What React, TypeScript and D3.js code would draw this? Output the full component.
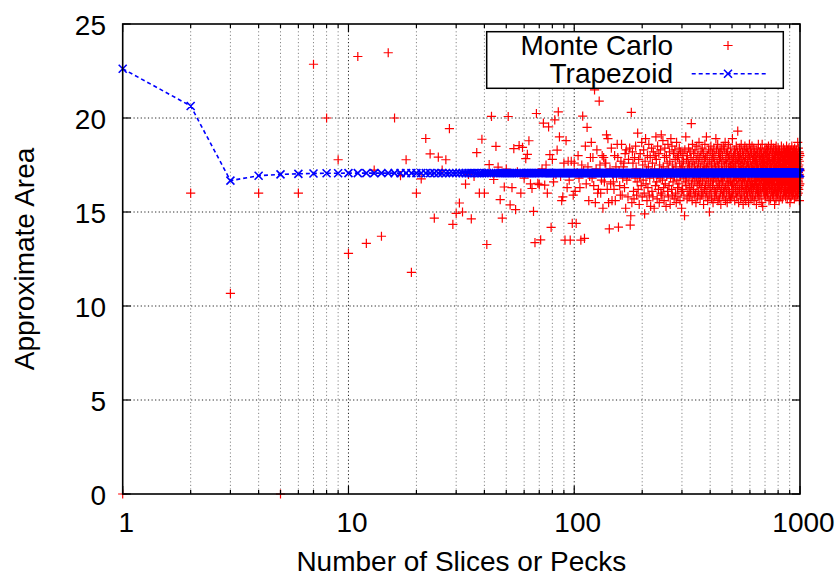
import React from 'react';
import * as d3 from 'd3';

// ---------- data ----------
const xTickValues = [1, 10, 100, 1000];
const yTickValues = [0, 5, 10, 15, 20, 25];
const seriesNames = ['Monte Carlo', 'Trapezoid'];
const xTitle = 'Number of Slices or Pecks';
const yTitle = 'Approximate Area';

// Trapezoid values for n = 1..10, then flat at the read-off limit up to n = 1000
const trapHead = [22.62, 20.64, 16.67, 16.93, 17.0, 17.03, 17.05, 17.06, 17.06, 17.07];
const trapTail = 17.07;
const trapCount = 1000;

// Monte Carlo values, blocks with their starting n
const mcStart1 = 1;
const mc1 = [
  0, 16, 10.67, 16, 0, 16, 22.86, 20, 17.78, 12.8,
  23.27, 13.33, 17.23, 13.71, 23.47, 20, 16.94, 17.78, 11.79, 16,
  16.76, 18.91, 18.09, 14.67, 17.92, 17.23, 17.78, 19.43, 14.34, 14.93,
  15.48, 15, 16.48, 17.0, 14.63, 16.89, 18.16, 16, 18.87, 16,
  13.27, 17.52, 20.09, 16.73, 18.49, 17.39, 15.66, 14.67, 16.33, 17.28,
  20.08, 15.38, 16.3, 18.37, 15.13, 17.14, 18.53, 16, 18.44, 16.8,
  17.84, 18.06, 18.79, 16.5, 16.25, 15.03, 13.37, 20.24, 16.53, 16.46,
  13.52, 17.3, 19.73, 16.43, 17.5, 16.0, 19.53, 18.05, 14.18, 17.8,
  16.6, 19.9, 17.0, 18.29, 20.33, 19.0, 16.9, 15.6, 15.8, 17.6,
  13.5, 18.8, 16.3, 17.7, 16.7, 13.5, 17.7, 14.4, 15.9, 17.6,
  16.1, 14.4, 17.1, 18.0, 16.8, 16.3, 13.5, 17.5, 20.1, 17.2,
  13.6, 18.5, 16.5, 19.5, 17.4, 15.6, 16.9, 17.9, 18.7, 16.8,
  17.9, 16.4, 21.5, 15.5, 17.3, 18.3, 16.0, 16.2, 20.9, 17.5,
  16.0, 16.7, 18.0, 15.2, 17.9, 16.6, 17.6, 17.6, 19.1, 16.2,
  18.9, 15.5, 14.1, 17.3, 16.5, 18.4, 15.6, 17.0, 16.6, 16.2,
  18.0, 15.6, 17.4, 16.9, 18.6, 17.9, 14.2, 17.2, 16.4, 15.9,
  17.7, 18.6, 15.9, 16.8, 17.4, 17.6, 16.3, 18.1, 15.2, 18.3,
  16.7, 17.0, 15.8, 17.8, 16.9, 18.4, 14.3, 14.8, 20.3, 15.5,
];
const mcStart2 = 181;
const mc2 = [
  18.2, 17.6, 16.1, 15.7, 17.9, 16.8, 18.5, 17.3, 15.9, 16.6,
  19.2, 16.2, 17.8, 15.4, 16.9, 18.1, 17.0, 16.4, 18.7, 15.8,
  17.5, 16.7, 18.3, 16.0, 14.9, 17.7, 18.9, 16.5, 17.2, 15.6,
  18.0, 16.3, 17.4, 18.6, 15.9, 16.8, 17.9, 15.3, 17.1, 18.4,
  16.1, 17.6, 15.8, 18.2, 16.9, 15.2, 17.3, 18.0, 16.4, 19.0,
  17.8, 16.6, 15.7, 18.5, 17.0, 16.2, 18.1, 15.5, 17.5, 16.8,
  18.3, 16.0, 19.1, 17.2, 15.9, 16.7, 18.8, 17.4, 16.3, 15.6,
  17.9, 18.4, 16.5, 17.1, 15.3, 18.0, 16.9, 17.6, 16.1, 18.6,
  15.8, 17.3, 16.4, 18.2, 17.7, 15.4, 16.8, 18.9, 17.0, 16.2,
  18.5, 15.9, 17.5, 16.6, 18.1, 17.2, 15.7, 16.9, 18.3, 17.8,
  16.0, 17.4, 15.5, 18.7, 16.7, 17.9, 16.3, 15.8, 18.0, 17.1,
  16.5, 18.4, 17.6, 15.6, 16.9, 18.2, 17.3, 16.1, 15.2, 17.7,
];
const mcStart3 = 301;
const mc3 = [
  17.4, 16.2, 18.1, 16.8, 17.7, 15.9, 17.2, 14.8, 18.3, 16.6,
  17.0, 19.0, 16.4, 17.8, 16.9, 15.7, 18.0, 17.3, 16.1, 17.6,
  18.4, 16.7, 15.8, 17.5, 16.3, 18.2, 17.1, 16.0, 17.9, 19.7,
  16.5, 17.4, 15.6, 18.6, 16.8, 17.7, 16.2, 18.1, 17.0, 15.9,
  17.5, 16.6, 18.3, 17.2, 16.0, 15.5, 17.8, 16.9, 18.5, 16.4,
  17.3, 15.8, 18.0, 16.7, 17.6, 16.1, 18.7, 17.0, 16.5, 17.9,
  15.7, 17.4, 16.8, 18.2, 16.3, 17.1, 15.9, 17.7, 18.4, 16.6,
  17.2, 16.0, 18.1, 15.4, 17.5, 16.9, 17.8, 16.2, 18.6, 17.3,
  16.4, 17.9, 15.8, 16.7, 19.0, 17.4, 16.1, 18.0, 17.0, 15.6,
  17.6, 16.5, 18.3, 16.8, 17.2, 15.9, 15.0, 17.7, 16.3, 18.2,
  17.1, 16.6, 18.5, 16.0, 17.5, 15.7, 17.8, 16.9, 18.1, 16.4,
  17.3, 15.5, 17.9, 16.7, 18.4, 17.0, 16.2, 17.6, 15.8, 18.0,
  16.8, 17.4, 16.1, 18.9, 17.2, 15.9, 18.3, 16.6, 17.7, 16.3,
  17.0, 18.6, 15.6, 17.5, 16.9, 18.1, 16.4, 17.3, 15.7, 17.8,
  16.5, 18.2, 17.1, 16.0, 17.9, 15.4, 16.8, 18.4, 17.4, 16.2,
  17.6, 16.7, 18.0, 15.9, 17.2, 16.6, 18.5, 17.0, 16.1, 17.7,
  15.8, 18.3, 16.9, 17.5, 16.3, 18.7, 17.1, 15.6, 17.8, 16.4,
  18.1, 17.3, 16.0, 17.6, 16.8, 15.5, 18.2, 17.0, 16.5, 17.9,
  16.2, 18.6, 17.4, 15.9, 16.7, 18.0, 17.2, 16.1, 17.7, 15.7,
  18.4, 16.6, 17.5, 16.9, 18.1, 15.8, 17.3, 16.4, 17.8, 16.0,
];
const mcStart4 = 501;
const mc4 = [
  17.2, 18.9, 16.5, 17.6, 15.9, 18.0, 16.8, 17.4, 16.2, 17.9,
  16.6, 18.3, 17.0, 15.6, 17.5, 16.9, 18.1, 16.3, 17.7, 16.0,
  17.3, 18.5, 16.7, 17.1, 15.8, 17.8, 16.4, 18.2, 17.0, 19.3,
  16.1, 17.6, 16.8, 18.0, 15.5, 17.4, 16.6, 17.9, 16.2, 18.4,
  17.2, 16.0, 17.7, 16.9, 18.1, 15.7, 17.5, 16.5, 18.6, 17.0,
  16.3, 17.8, 15.9, 17.3, 16.7, 18.2, 17.1, 16.4, 17.6, 15.4,
  18.0, 16.8, 17.4, 16.1, 18.3, 17.0, 15.8, 17.7, 16.6, 18.5,
  17.2, 16.2, 17.9, 16.9, 15.6, 18.1, 17.5, 16.4, 17.3, 16.0,
  18.4, 17.1, 16.5, 17.8, 15.9, 17.6, 16.7, 18.2, 17.0, 16.3,
  17.5, 15.5, 18.0, 16.8, 17.3, 16.1, 18.6, 17.2, 16.6, 17.9,
  16.0, 17.7, 18.3, 16.4, 17.1, 15.7, 17.5, 16.9, 18.1, 16.2,
  17.4, 16.7, 18.5, 17.0, 15.8, 17.8, 16.5, 17.3, 16.1, 18.0,
  17.6, 16.3, 17.2, 18.4, 16.8, 15.6, 17.9, 17.0, 16.4, 17.5,
  18.2, 16.6, 17.1, 15.9, 17.7, 16.9, 18.0, 16.2, 17.4, 16.7,
  15.4, 17.8, 16.5, 18.3, 17.2, 16.0, 17.6, 16.8, 18.1, 17.0,
  16.3, 17.5, 15.8, 18.6, 16.9, 17.3, 16.4, 17.9, 16.1, 18.2,
  17.1, 16.6, 17.7, 15.7, 18.0, 16.8, 17.4, 16.2, 18.4, 17.0,
  16.5, 17.8, 16.0, 17.3, 18.1, 16.7, 15.5, 17.6, 16.9, 18.6,
  17.2, 16.3, 17.9, 15.3, 17.5, 16.6, 18.2, 17.0, 16.4, 17.7,
  16.1, 18.0, 17.4, 16.8, 15.9, 17.6, 16.5, 18.3, 17.1, 16.2,
];
const mcStart5 = 701;
const mc5 = [
  17.8, 16.7, 17.3, 15.8, 18.1, 16.9, 17.5, 16.3, 18.4, 17.0,
  16.6, 17.7, 16.1, 18.0, 17.2, 15.9, 17.6, 16.8, 18.3, 16.4,
  17.4, 16.0, 17.9, 16.7, 18.5, 17.1, 16.5, 17.7, 15.6, 18.2,
  16.9, 17.3, 16.2, 17.8, 16.6, 18.0, 17.0, 16.4, 17.5, 15.7,
  18.3, 16.8, 17.6, 16.1, 17.2, 18.6, 16.7, 17.4, 16.3, 17.9,
  16.5, 18.1, 17.0, 15.9, 17.7, 16.9, 18.2, 16.4, 17.3, 16.0,
  17.8, 16.6, 18.4, 17.1, 15.8, 17.5, 16.8, 18.0, 16.2, 17.6,
  16.7, 15.4, 17.9, 16.5, 18.3, 17.2, 16.1, 17.4, 16.9, 18.1,
  16.3, 17.7, 15.7, 18.5, 17.0, 16.6, 17.5, 16.0, 18.2, 16.8,
  17.3, 16.4, 17.8, 16.9, 15.9, 18.0, 17.1, 16.2, 17.6, 18.4,
  16.7, 17.4, 16.1, 17.9, 16.5, 18.2, 17.0, 15.6, 17.7, 16.8,
  18.3, 16.3, 17.5, 16.6, 17.2, 18.0, 16.0, 17.8, 16.9, 17.3,
  15.8, 17.6, 16.4, 18.1, 17.0, 16.7, 18.5, 16.2, 17.4, 16.8,
  17.9, 16.5, 18.2, 17.1, 15.7, 17.7, 16.6, 17.3, 18.0, 16.3,
  17.5, 16.9, 17.8, 16.0, 18.4, 17.2, 16.6, 17.6, 15.9, 18.1,
  16.8, 17.4, 16.2, 17.9, 16.7, 18.3, 17.0, 16.4, 17.7, 16.1,
  18.0, 17.3, 15.8, 17.5, 16.9, 18.2, 16.5, 17.8, 16.3, 17.1,
  16.7, 18.5, 17.4, 16.0, 17.6, 16.8, 18.1, 15.7, 17.2, 16.6,
  17.9, 16.4, 18.3, 17.0, 16.2, 17.7, 16.9, 18.0, 16.5, 17.3,
  15.9, 17.6, 16.8, 18.4, 17.1, 16.3, 17.8, 16.6, 18.2, 17.4,
  16.0, 17.5, 15.5, 18.1, 16.9, 17.3, 16.4, 17.9, 16.7, 18.3,
  17.0, 16.2, 17.7, 15.8, 18.0, 17.2, 16.6, 17.5, 16.1, 18.5,
  16.8, 17.4, 16.3, 17.8, 16.9, 18.2, 15.9, 17.1, 16.5, 17.6,
  18.0, 16.7, 17.3, 16.0, 17.9, 16.4, 18.3, 17.0, 16.6, 17.7,
  16.2, 18.1, 17.5, 15.7, 17.2, 16.8, 18.4, 16.5, 17.6, 16.9,
  17.8, 16.3, 18.0, 17.1, 16.0, 17.4, 16.7, 18.2, 15.8, 17.5,
  16.6, 17.9, 16.4, 18.3, 17.0, 16.8, 17.7, 16.1, 18.1, 17.3,
  16.5, 17.6, 15.9, 18.0, 16.9, 17.2, 18.7, 16.3, 17.8, 16.7,
  17.4, 16.0, 18.4, 17.1, 16.6, 17.9, 16.2, 17.5, 18.2, 16.8,
  17.0, 16.4, 17.7, 15.6, 18.1, 16.9, 17.3, 16.5, 18.0, 17.2,
];

const mcBlocks: [number, number[]][] = [
  [mcStart1, mc1], [mcStart2, mc2], [mcStart3, mc3], [mcStart4, mc4], [mcStart5, mc5],
];

// ---------- chart ----------
export default function App() {
  const W = 838, H = 577;
  const left = 122.7, right = 800, top = 24, bottom = 494;
  const font = '"Liberation Sans", Arial, Helvetica, sans-serif';
  const fs = 28;

  const x = d3.scaleLog().domain([1, 1000]).range([left, right]);
  const y = d3.scaleLinear().domain([0, 25]).range([bottom, top]);

  const mcPoints: { n: number; v: number }[] = [];
  mcBlocks.forEach(([start, vals]) => vals.forEach((v, i) => mcPoints.push({ n: start + i, v })));

  const trapPoints = d3.range(1, trapCount + 1).map((n) => ({
    n,
    v: n <= trapHead.length ? trapHead[n - 1] : trapTail,
  }));

  const allXTicks = x.ticks();
  const isMajor = (t: number) => Math.abs(Math.log10(t) - Math.round(Math.log10(t))) < 1e-9;

  const plusSize = 4.6;
  const plusPath = mcPoints
    .map((p) => {
      const px = x(p.n), py = y(p.v);
      return `M${px - plusSize},${py}h${plusSize * 2}M${px},${py - plusSize}v${plusSize * 2}`;
    })
    .join('');

  const cross = 4;
  const crossPath = trapPoints
    .map((p) => {
      const px = x(p.n), py = y(p.v);
      return `M${px - cross},${py - cross}l${cross * 2},${cross * 2}M${px - cross},${py + cross}l${cross * 2},${-cross * 2}`;
    })
    .join('');

  const trapLine = d3
    .line<{ n: number; v: number }>()
    .x((d) => x(d.n))
    .y((d) => y(d.v))(trapPoints) as string;

  const legend = { x0: 486.7, y0: 31.7, x1: 783.3, y1: 88.3 };
  const legTextX = 673;
  const legSampleX = 728;

  return (
    <svg
      width={W}
      height={H}
      style={{ position: 'absolute', left: 0, top: 0, background: '#fff' }}
      fontFamily={font}
    >
      <rect x={0} y={0} width={W} height={H} fill="#fff" />
      {/* grid */}
      <g fill="none" strokeWidth={1}>
        {allXTicks
          .filter((t) => t > 1 && t < 1000)
          .map((t) => (
            <line
              key={'gx' + t}
              x1={x(t)}
              x2={x(t)}
              y1={top}
              y2={bottom}
              stroke={isMajor(t) ? '#222' : '#888'}
              strokeDasharray="1.2,2.4"
            />
          ))}
        {yTickValues
          .filter((t) => t > 0 && t < 25)
          .map((t) => (
            <line
              key={'gy' + t}
              x1={left}
              x2={right}
              y1={y(t)}
              y2={y(t)}
              stroke="#222"
              strokeDasharray="1.2,2.4"
            />
          ))}
      </g>

      {/* Monte Carlo */}
      <path d={plusPath} stroke="#ff0000" strokeWidth={1.2} fill="none" />

      {/* Trapezoid */}
      <path d={trapLine} stroke="#0000ff" strokeWidth={1.6} strokeDasharray="4,3" fill="none" />
      <path d={crossPath} stroke="#0000ff" strokeWidth={1.6} fill="none" />

      {/* border and ticks */}
      <rect x={left} y={top} width={right - left} height={bottom - top} fill="none" stroke="#000" strokeWidth={1.6} />
      <g stroke="#000" strokeWidth={1.2}>
        {allXTicks.map((t) => {
          const len = isMajor(t) ? 8 : 4;
          return (
            <g key={'tx' + t}>
              <line x1={x(t)} x2={x(t)} y1={bottom} y2={bottom - len} />
              <line x1={x(t)} x2={x(t)} y1={top} y2={top + len} />
            </g>
          );
        })}
        {yTickValues.map((t) => (
          <g key={'ty' + t}>
            <line x1={left} x2={left + 8} y1={y(t)} y2={y(t)} />
            <line x1={right} x2={right - 8} y1={y(t)} y2={y(t)} />
          </g>
        ))}
      </g>

      {/* tick labels */}
      <g fontSize={fs} fill="#000">
        {xTickValues.map((t) => (
          <text key={'lx' + t} x={x(t) + 3.5} y={532} textAnchor="middle">
            {String(t)}
          </text>
        ))}
        {yTickValues.map((t) => (
          <text key={'ly' + t} x={106} y={y(t) + 10.5} textAnchor="end">
            {String(t)}
          </text>
        ))}
      </g>

      {/* axis titles */}
      <text x={(left + right) / 2} y={571} textAnchor="middle" fontSize={fs} fill="#000">
        {xTitle}
      </text>
      <text
        transform={`translate(33.5,${(top + bottom) / 2}) rotate(-90)`}
        textAnchor="middle"
        fontSize={fs}
        fill="#000"
      >
        {yTitle}
      </text>

      {/* legend */}
      <rect
        x={legend.x0}
        y={legend.y0}
        width={legend.x1 - legend.x0}
        height={legend.y1 - legend.y0}
        fill="#fff"
        stroke="#000"
        strokeWidth={1.5}
      />
      <text x={legTextX} y={55} textAnchor="end" fontSize={fs} fill="#000">
        {seriesNames[0]}
      </text>
      <text x={legTextX} y={83} textAnchor="end" fontSize={fs} fill="#000">
        {seriesNames[1]}
      </text>
      <path
        d={`M${legSampleX - plusSize},45.5h${plusSize * 2}M${legSampleX},${45.5 - plusSize}v${plusSize * 2}`}
        stroke="#ff0000"
        strokeWidth={1.2}
      />
      <line x1={691.7} x2={766.7} y1={73.7} y2={73.7} stroke="#0000ff" strokeWidth={1.6} strokeDasharray="4,3" />
      <path
        d={`M${legSampleX - cross},${73.7 - cross}l${cross * 2},${cross * 2}M${legSampleX - cross},${73.7 + cross}l${cross * 2},${-cross * 2}`}
        stroke="#0000ff"
        strokeWidth={1.6}
      />
    </svg>
  );
}
